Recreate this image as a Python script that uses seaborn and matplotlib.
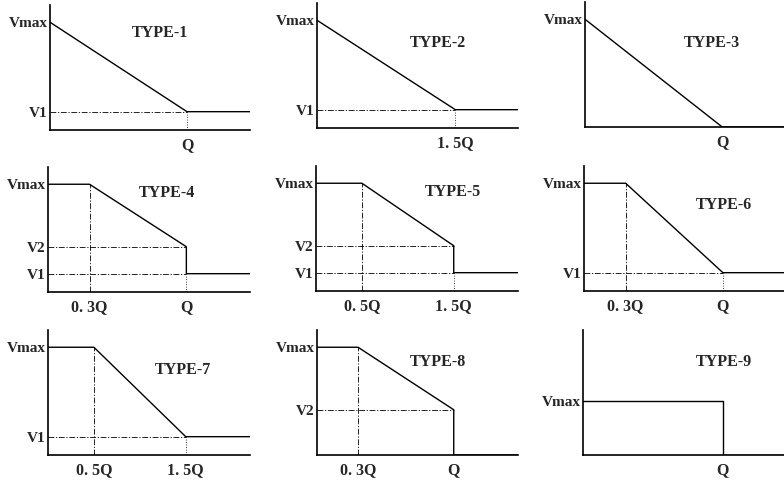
import seaborn as sns
import matplotlib.pyplot as plt

sns.set_style("white")
plt.rcParams["font.family"] = ["Liberation Serif", "DejaVu Serif"]

# profile names
types = ["TYPE-1", "TYPE-2", "TYPE-3", "TYPE-4", "TYPE-5",
         "TYPE-6", "TYPE-7", "TYPE-8", "TYPE-9"]

# speed levels (fraction of Vmax)
VMAX = 1.0
V1 = 0.17
V2 = 0.42

# profile break points: x in units of Q, y in units of Vmax
prof_x = [
    [0, 1.0],
    [0, 1.5],
    [0, 1.0],
    [0, 0.3, 1.0, 1.0],
    [0, 0.5, 1.5, 1.5],
    [0, 0.3, 1.0],
    [0, 0.5, 1.5],
    [0, 0.3, 1.0, 1.0],
    [0, 1.0, 1.0],
]
prof_y = [
    [VMAX, V1],
    [VMAX, V1],
    [VMAX, 0],
    [VMAX, VMAX, V2, V1],
    [VMAX, VMAX, V2, V1],
    [VMAX, VMAX, V1],
    [VMAX, VMAX, V1],
    [VMAX, VMAX, V2, 0],
    [VMAX, VMAX, 0],
]
# x range of each panel (in Q)
x_end = [1.46, 2.18, 1.45, 1.46, 2.2, 1.44, 2.2, 1.47, 1.44]

# tick labels
x_ticks = [[1.0], [1.5], [1.0], [0.3, 1.0], [0.5, 1.5], [0.3, 1.0],
           [0.5, 1.5], [0.3, 1.0], [1.0]]
x_labels = [["Q"], ["1. 5Q"], ["Q"], ["0. 3Q", "Q"], ["0. 5Q", "1. 5Q"],
            ["0. 3Q", "Q"], ["0. 5Q", "1. 5Q"], ["0. 3Q", "Q"], ["Q"]]
y_ticks = [[VMAX, V1], [VMAX, V1], [VMAX], [VMAX, V2, V1], [VMAX, V2, V1],
           [VMAX, V1], [VMAX, V1], [VMAX, V2], [VMAX]]
y_labels = [["Vmax", "V1"], ["Vmax", "V1"], ["Vmax"], ["Vmax", "V2", "V1"],
            ["Vmax", "V2", "V1"], ["Vmax", "V1"], ["Vmax", "V1"],
            ["Vmax", "V2"], ["Vmax"]]

# layout (pixels: left, bottom-from-top, width) and title spots
boxes = [(50, 130, 200), (317, 128, 201), (585, 127, 199),
         (48, 292, 202), (316, 291, 202), (584, 291, 200),
         (48, 455, 202), (317, 455, 201), (583, 455, 201)]
title_pos = [(0.55, 0.78), (0.60, 0.68), (0.64, 0.67),
             (0.59, 0.79), (0.68, 0.79), (0.70, 0.69),
             (0.67, 0.68), (0.60, 0.74), (0.70, 0.74)]
y_top = [1.16, 1.16, 1.16, 1.16, 1.16, 1.16, 1.16, 1.16, 2.3]

W, H = 784, 480
fig = plt.figure(figsize=(W / 100, H / 100), dpi=100)
dashdot = (0, (7, 2, 1.5, 2))

for i in range(9):
    left, bottom, width = boxes[i]
    ax = fig.add_axes([left / W, (H - bottom) / H, width / W, 125 / H])
    px, py = prof_x[i], prof_y[i]
    xe = x_end[i]
    # tail of the profile runs on to the end of the axis
    sns.lineplot(x=px + [xe], y=py + [py[-1]], ax=ax, sort=False,
                 estimator=None, color="black", lw=1.0)

    q = px[-1]
    # reference lines for the intermediate levels
    for lv in set(py[1:]):
        if 0 < lv < VMAX:
            ax.plot([0, q], [lv, lv], color="black", lw=0.6, ls=dashdot)
    # end of the constant-speed stretch
    if len(px) > 2 and py[1] == VMAX and px[1] < q:
        ax.plot([px[1], px[1]], [0, VMAX], color="black", lw=0.6, ls=dashdot)
    # dotted drop at Q down to the axis
    low = min(py[1:])
    if low > 0:
        ax.plot([q, q], [0, low], color="black", lw=0.6, ls=(0, (1, 2)))

    ax.set_xlim(0, xe)
    ax.set_ylim(0, y_top[i])
    ax.set_xticks(x_ticks[i])
    ax.set_xticklabels(x_labels[i], fontsize=11.5, fontweight="bold")
    ax.set_yticks(y_ticks[i])
    ax.set_yticklabels(y_labels[i], fontsize=11, fontweight="bold")
    ax.tick_params(axis="x", length=0, pad=5)
    ax.tick_params(axis="y", length=0, pad=1.5)
    ax.set_xlabel("")
    ax.set_ylabel("")
    sns.despine(ax=ax)
    for s in ("left", "bottom"):
        ax.spines[s].set_color("black")
        ax.spines[s].set_linewidth(1.2)
    ax.spines["left"].set_zorder(5)
    ax.patch.set_alpha(0)
    tx, ty = title_pos[i]
    ax.text(tx, ty, types[i], transform=ax.transAxes, ha="center",
            va="center", fontsize=11.5, fontweight="bold")

fig.savefig("out.png", dpi=100)
